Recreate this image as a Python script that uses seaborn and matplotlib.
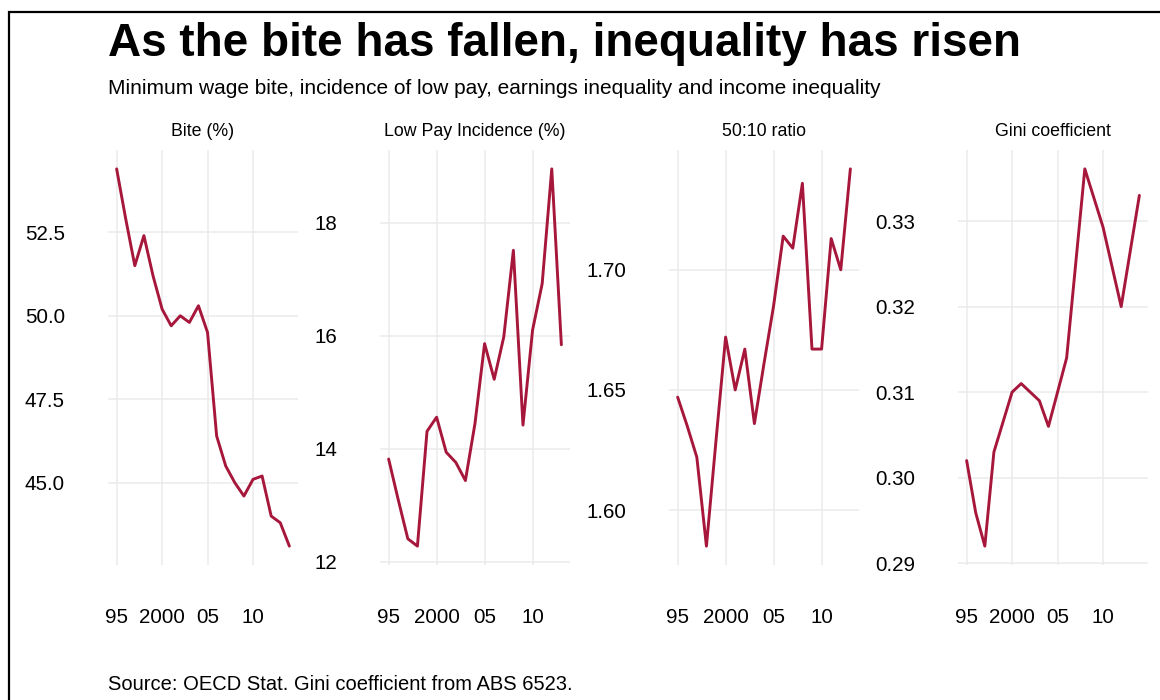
import matplotlib
matplotlib.use('Agg')
import matplotlib.pyplot as plt
import seaborn as sns
import pandas as pd

# Values
bite_years = list(range(1995, 2015))
bite = [54.4, 52.9, 51.5, 52.4, 51.2, 50.2, 49.7, 50.0, 49.8, 50.3,
        49.5, 46.4, 45.5, 45.0, 44.6, 45.1, 45.2, 44.0, 43.8, 43.1]

lowpay_years = list(range(1995, 2014))
lowpay = [13.82, 13.1, 12.41, 12.28, 14.31, 14.56, 13.94, 13.76, 13.44, 14.45,
          15.86, 15.23, 15.98, 17.51, 14.42, 16.1, 16.92, 18.95, 15.84]

ratio_years = list(range(1995, 2014))
ratio = [1.647, 1.635, 1.622, 1.585, 1.629, 1.672, 1.650, 1.667, 1.636, 1.661,
         1.685, 1.714, 1.709, 1.736, 1.667, 1.667, 1.713, 1.700, 1.742]

gini_years = [1995, 1996, 1997, 1998, 2000, 2001, 2003, 2004, 2006, 2008, 2010, 2012, 2014]
gini = [0.302, 0.2959, 0.292, 0.303, 0.310, 0.311, 0.309, 0.306, 0.314,
        0.3361, 0.3293, 0.320, 0.333]

panel_titles = ['Bite (%)', 'Low Pay Incidence (%)', '50:10 ratio', 'Gini coefficient']
y_ticks = [[45.0, 47.5, 50.0, 52.5], [12, 14, 16, 18], [1.60, 1.65, 1.70],
           [0.29, 0.30, 0.31, 0.32, 0.33]]
y_fmt = ['{:.1f}', '{:.0f}', '{:.2f}', '{:.2f}']
x_ticks = [1995, 2000, 2005, 2010]
x_labels = ['95', '2000', '05', '10']

df = pd.concat([
    pd.DataFrame({'year': bite_years, 'value': bite, 'panel': panel_titles[0]}),
    pd.DataFrame({'year': lowpay_years, 'value': lowpay, 'panel': panel_titles[1]}),
    pd.DataFrame({'year': ratio_years, 'value': ratio, 'panel': panel_titles[2]}),
    pd.DataFrame({'year': gini_years, 'value': gini, 'panel': panel_titles[3]}),
])

sns.set_theme(style='white')
plt.rcParams['font.family'] = ['Liberation Sans', 'DejaVu Sans']
plt.rcParams['text.color'] = 'black'

line_color = '#A6173B'
W, H = 1160, 700
fig = plt.figure(figsize=(11.6, 7), dpi=100)

# frame around the figure (cut off on right and bottom)
fig.add_artist(plt.Rectangle((9 / W, -0.1), 1.2, 1 - 12 / H + 0.1, transform=fig.transFigure,
                             fill=False, edgecolor='black', lw=1.6))

lefts = [108, 380, 669, 958]
for i, name in enumerate(panel_titles):
    ax = fig.add_axes([lefts[i] / W, 1 - 565 / H, 190 / W, 415 / H])
    sub = df[df['panel'] == name]
    sns.lineplot(data=sub, x='year', y='value', ax=ax, color=line_color, lw=2.1)
    ax.set_xticks(x_ticks)
    ax.set_xticklabels(x_labels)
    ax.set_yticks(y_ticks[i])
    ax.set_yticklabels([y_fmt[i].format(v) for v in y_ticks[i]])
    ax.set_xlabel('')
    ax.set_ylabel('')
    ax.set_title(name, fontsize=12.8, pad=10, color='black')
    ax.tick_params(length=0, pad=31, labelsize=14.8, labelcolor='black')
    ax.grid(True, color='#EBEBEB', lw=1.1)
    ax.set_axisbelow(True)
    for s in ax.spines.values():
        s.set_visible(False)

fig.text(108 / W, 1 - 44 / H, 'As the bite has fallen, inequality has risen',
         fontsize=33, fontweight='bold', va='center', ha='left', color='black')
fig.text(108 / W, 1 - 88 / H,
         'Minimum wage bite, incidence of low pay, earnings inequality and income inequality',
         fontsize=15, va='center', ha='left', color='black')
fig.text(108 / W, 1 - 684 / H, 'Source: OECD Stat. Gini coefficient from ABS 6523.',
         fontsize=14.5, va='center', ha='left', color='black')

fig.savefig('out.png', dpi=100)
